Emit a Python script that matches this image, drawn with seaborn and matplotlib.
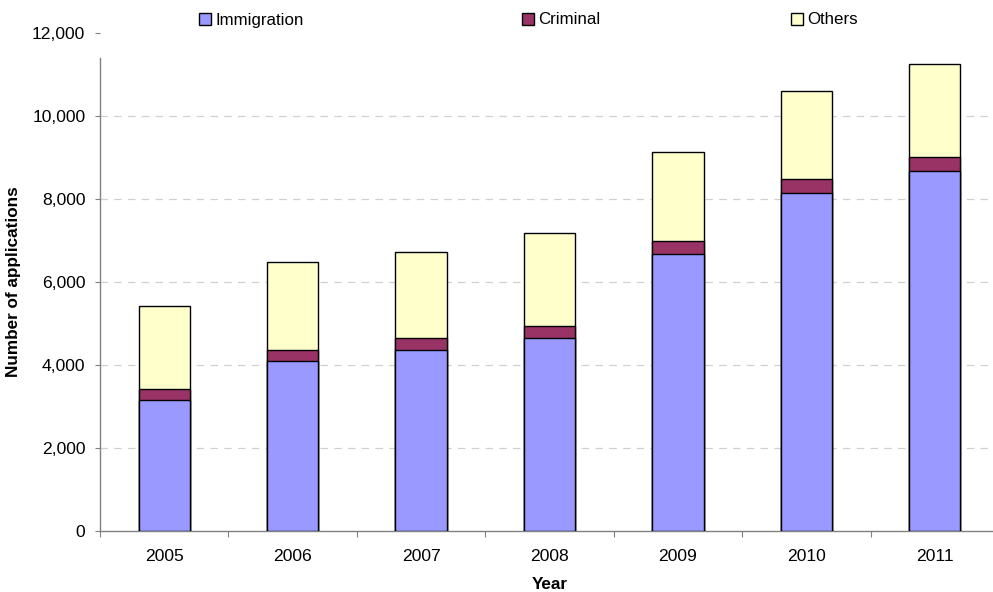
import matplotlib
matplotlib.use("Agg")
import matplotlib.pyplot as plt
import matplotlib.patches as mpatches
from matplotlib.ticker import FuncFormatter, FixedLocator
import numpy as np
import pandas as pd
import seaborn as sns

years = ["2005", "2006", "2007", "2008", "2009", "2010", "2011"]
immigration = [3150, 4090, 4350, 4650, 6670, 8150, 8680]
criminal = [260, 260, 290, 300, 320, 340, 340]
others = [2000, 2135, 2080, 2240, 2145, 2110, 2240]
series_names = ["Immigration", "Criminal", "Others"]
colors = {"Immigration": "#9999FF", "Criminal": "#993366", "Others": "#FFFFCC"}
yticks = [0, 2000, 4000, 6000, 8000, 10000, 12000]

sns.set_theme(style="white")
plt.rcParams["font.family"] = ["Liberation Sans", "DejaVu Sans"]
plt.rcParams["text.color"] = "black"
plt.rcParams["axes.labelcolor"] = "black"

df = pd.DataFrame({"Year": years, "Immigration": immigration,
                   "Criminal": criminal, "Others": others})
df["lvl1"] = df["Immigration"]
df["lvl2"] = df["Immigration"] + df["Criminal"]
df["lvl3"] = df["lvl2"] + df["Others"]

fig = plt.figure(figsize=(9.93, 5.92), dpi=100)
ax = fig.add_axes([100 / 993, 1 - 531 / 592, 899 / 993, (531 - 33) / 592])

for col, name in [("lvl3", "Others"), ("lvl2", "Criminal"), ("lvl1", "Immigration")]:
    sns.barplot(data=df, x="Year", y=col, color=colors[name], width=0.4,
                edgecolor="black", linewidth=1.0, saturation=1, ax=ax, zorder=3)

ax.set_ylim(0, 12000)
ax.set_xlim(-0.5, 6.5)
ax.set_yticks(yticks)
ax.yaxis.set_major_formatter(FuncFormatter(lambda v, p: f"{int(v):,}"))
ax.yaxis.grid(True, linestyle=(0, (6, 5)), color="#D0D0D0", linewidth=0.9, zorder=0)
ax.set_axisbelow(True)
fig.canvas.draw()
gl = ax.yaxis.get_gridlines()
gl[0].set_visible(False)
gl[-1].set_visible(False)

for s in ["top", "right"]:
    ax.spines[s].set_visible(False)
ax.spines["left"].set_color("#808080")
ax.spines["bottom"].set_color("#808080")
ax.spines["left"].set_linewidth(1.0)
ax.spines["bottom"].set_linewidth(1.0)
ax.spines["left"].set_bounds(0, 11400)

ax.tick_params(axis="y", which="major", left=True, length=3.6, width=0.8,
               color="#808080", pad=7, labelsize=12.6, labelcolor="black")
ax.tick_params(axis="x", which="major", bottom=False, length=0, pad=13,
               labelsize=12.6, labelcolor="black")
ax.xaxis.set_minor_locator(FixedLocator(np.arange(-0.5, 7.0, 1.0)))
ax.tick_params(axis="x", which="minor", bottom=True, length=4, width=0.8,
               color="#808080")

ax.set_xlabel("Year", fontsize=12.3, fontweight="bold", labelpad=9, color="black")
ax.set_ylabel("Number of applications", fontsize=12.3, fontweight="bold",
              labelpad=8, color="black")

legend_x = [200, 523, 792]
for name, xpx in zip(series_names, legend_x):
    h = mpatches.Patch(facecolor=colors[name], edgecolor="black", linewidth=1.0)
    fig.legend(handles=[h], labels=[name], loc="center left",
               bbox_to_anchor=(xpx / 993 - 0.001, 1 - 20 / 592), frameon=False,
               fontsize=12.2, handlelength=0.7, handleheight=0.7,
               handletextpad=0.25, borderpad=0, borderaxespad=0,
               labelcolor="black")

fig.savefig("out.png", dpi=100)
